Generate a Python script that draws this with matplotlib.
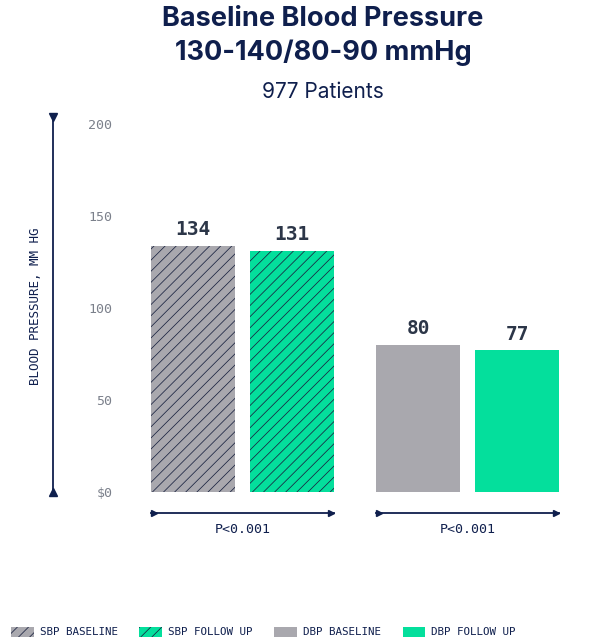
import numpy as np
import matplotlib
matplotlib.use("Agg")
import matplotlib.pyplot as plt
from matplotlib.patches import Patch

# -------------------------------
# data
# -------------------------------
series = ["SBP BASELINE", "SBP FOLLOW UP", "DBP BASELINE", "DBP FOLLOW UP"]
values = [134, 131, 80, 77]
yticks = [0, 50, 100, 150, 200]
ytick_labels = [r"\$0", "50", "100", "150", "200"]
pvalues = ["P<0.001", "P<0.001"]

# -------------------------------
# styling
# -------------------------------
navy = "#0f1f4d"
slate = "#2c3648"
gray = "#a9a8ae"
green = "#04df9c"
tick_gray = "#7b808b"
hatch_col = "#1a2340"
colors = [gray, green, gray, green]
hatches = ["///", "///", None, None]
mono = "DejaVu Sans Mono"

plt.rcParams["hatch.color"] = hatch_col
plt.rcParams["hatch.linewidth"] = 0.55

W, H = 616, 640
fig = plt.figure(figsize=(W / 100, H / 100), dpi=100)
ax = fig.add_axes([0, 0.23125, 1, 0.5859])

# bar centres: two groups of two, wider gap between groups
x = np.array([0, 1, 2.273, 3.273])
width = 0.848
px = 99.0  # pixels per x unit
ax.set_xlim(-193 / px, -193 / px + W / px)
ax.set_ylim(0, 204)

for xi, v, c, h in zip(x, values, colors, hatches):
    ax.bar(xi, v, width=width, color=c, hatch=h, edgecolor=hatch_col if h else c,
           linewidth=0)
    ax.annotate(str(v), (xi, v), xytext=(0, 5), textcoords="offset points",
                ha="center", va="bottom", fontsize=14, fontweight="bold",
                family=mono, color=slate)

# y ticks
for s in ax.spines.values():
    s.set_visible(False)
ax.spines["left"].set_position(("data", (118 - 193) / px))
ax.set_xticks([])
ax.set_yticks(yticks)
ax.set_yticklabels(ytick_labels, family=mono, fontsize=9.5, color=tick_gray)
ax.tick_params(axis="y", length=0, pad=4)

# vertical axis line with end markers
yax = ax.get_yaxis_transform()
xl = 53 / W
ax.plot([xl, xl], [0, 204], color=navy, lw=1.3, transform=yax, clip_on=False)
ax.plot([xl], [204], marker="v", color=navy, ms=6, transform=yax, clip_on=False)
ax.plot([xl], [0], marker="^", color=navy, ms=6, transform=yax, clip_on=False)

# group brackets with p-values
xax = ax.get_xaxis_transform()
for g, p in enumerate(pvalues):
    x0 = x[2 * g] - width / 2
    x1 = x[2 * g + 1] + width / 2
    ax.plot([x0, x1], [-0.055, -0.055], color=navy, lw=1.3, transform=xax,
            clip_on=False)
    ax.plot([x0 + 0.03, x1 - 0.03], [-0.055, -0.055], ls="none", marker=">",
            color=navy, ms=5, transform=xax, clip_on=False)
    ax.text((x0 + x1) / 2, -0.1, p, transform=xax, ha="center", va="center",
            family=mono, fontsize=9.5, color=navy)

# titles
fig.text(323 / W, 1 - 6 / H, "Baseline Blood Pressure\n130-140/80-90 mmHg",
         ha="center", va="top", fontsize=19.5, fontweight="bold", family="Inter",
         color=navy, linespacing=1.38)
fig.text(323 / W, 1 - 92 / H, "977 Patients", ha="center", va="center",
         fontsize=15, family="Inter", color=navy)

fig.text(36 / W, 1 - 306 / H, "BLOOD PRESSURE, MM HG", rotation=90,
         ha="center", va="center", family=mono, fontsize=9, color=navy)

# legend
handles = [Patch(facecolor=c, hatch=h, edgecolor=hatch_col if h else c, linewidth=0)
           for c, h in zip(colors, hatches)]
fig.legend(handles, series, loc="center left", bbox_to_anchor=(11 / W, 1 - 632 / H),
           ncol=4, frameon=False, prop={"family": mono, "size": 7.8},
           handlelength=2.1, handleheight=1.1, handletextpad=0.55,
           columnspacing=2.0, borderaxespad=0, borderpad=0, labelcolor=navy)

fig.savefig("out.png", dpi=100)
